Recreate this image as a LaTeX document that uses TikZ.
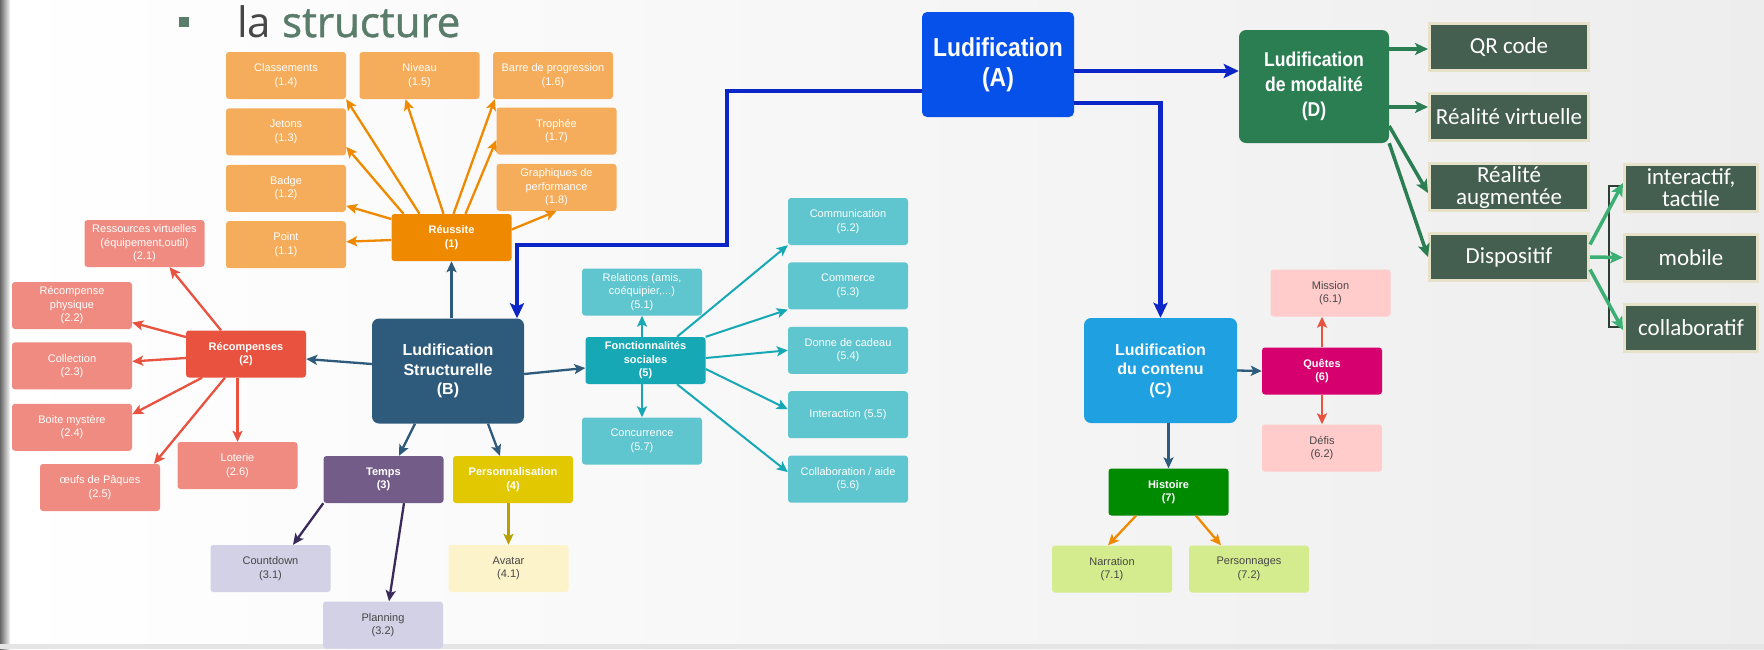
\documentclass[tikz,border=0pt]{standalone}
\usepackage{fontspec}
\setmainfont{Liberation Sans}
\newfontfamily\narrowsans[FakeStretch=0.88]{Liberation Sans}
\newfontfamily\slidesans{Carlito}
\newfontfamily\titlesans{Open Sans}
\newfontfamily\titleheavy[FakeBold=1.2]{Open Sans}
\usepackage{xcolor}
\usetikzlibrary{arrows.meta,positioning}

\definecolor{orLight}{HTML}{F5AD5B}
\definecolor{orDark}{HTML}{EF8A00}
\definecolor{rdLight}{HTML}{EF8B80}
\definecolor{rdDark}{HTML}{E8523E}
\definecolor{stBlue}{HTML}{2E5B7B}
\definecolor{tmPurple}{HTML}{745C89}
\definecolor{tmLight}{HTML}{D2D1E6}
\definecolor{tmArrow}{HTML}{3A2A5C}
\definecolor{psYellow}{HTML}{E1C800}
\definecolor{psLight}{HTML}{FDF3CA}
\definecolor{psArrow}{HTML}{B8A000}
\definecolor{scDark}{HTML}{17A8B6}
\definecolor{scLight}{HTML}{5FC5CE}
\definecolor{ldBlue}{HTML}{0651EA}
\definecolor{lnBlue}{HTML}{0B25C6}
\definecolor{ctBlue}{HTML}{1FA0E0}
\definecolor{qtMag}{HTML}{D6006E}
\definecolor{qtLight}{HTML}{FFCBCB}
\definecolor{hsGreen}{HTML}{008A00}
\definecolor{hsLight}{HTML}{D5EC8E}
\definecolor{mdGreen}{HTML}{2A7E52}
\definecolor{dvFill}{HTML}{445F4F}
\definecolor{dvEdge}{HTML}{E6E2C9}
\definecolor{dvArrow}{HTML}{3CAF74}
\definecolor{brkDark}{HTML}{2D3F35}
\definecolor{ttGreen}{HTML}{5A7C6B}
\definecolor{txDark}{HTML}{474747}

\begin{document}
\begin{tikzpicture}[
  x=1pt, y=1pt,
  box/.style={rounded corners=3pt, align=center, minimum width=120pt,
    minimum height=47pt, inner sep=1pt, text=white,
    font=\fontsize{11}{13.5}\selectfont},
  head/.style={box, font=\bfseries\fontsize{11}{13.5}\selectfont},
  big/.style={rounded corners=7pt, align=center, minimum width=152pt,
    minimum height=105pt, text=white, font=\bfseries\fontsize{16}{19.5}\selectfont},
  dev/.style={fill=dvFill, draw=dvEdge, line width=3pt, text=white, align=center,
    minimum width=159pt, minimum height=47pt, inner sep=1pt,
    font=\slidesans\fontsize{23}{22}\selectfont},
  arrow/.style={-{Stealth[length=11pt,width=10pt,inset=2.5pt]}, line width=2.3pt},
  link/.style={-{Stealth[length=15pt,width=14pt,inset=3pt]}, line width=4.5pt, lnBlue},
  garrow/.style={-{Stealth[length=13pt,width=12pt,inset=3pt]}, line width=3.5pt}
]
\useasboundingbox (0,0) rectangle (1764,-649);
\shade[left color=white, right color=black!7] (0,0) rectangle (1764,-649);
\shade[left color=black!60, right color=black!3] (0,0) rectangle (10,-649);
\fill[black!10] (0,-644) rectangle (1764,-649);

\node[fill=ttGreen, minimum size=10pt, inner sep=0pt] (bul) at (183.5,-22) {};
\node[anchor=base west, inner sep=0pt, font=\fontsize{42}{42}\selectfont] (ttl) at (237,-37)
  {\titlesans\textcolor{txDark}{la} \titleheavy\textcolor{ttGreen}{structure}};

\node[big, fill=ldBlue, rounded corners=5pt, font=\narrowsans\bfseries\fontsize{26}{30}\selectfont]
  (lud) at (998,-64.5) {Ludification\\(A)};
\node[big, fill=stBlue] (strc) at (448,-371) {Ludification\\Structurelle\\(B)};
\node[big, fill=ctBlue, minimum width=153pt] (cont) at (1160.5,-370.5) {Ludification\\du contenu\\(C)};
\node[big, fill=mdGreen, minimum width=150pt, minimum height=113pt,
  font=\narrowsans\bfseries\fontsize{20}{25}\selectfont] (moda) at (1314,-86.5) {Ludification\\de modalité\\(D)};

\node[head, fill=orDark] (reu) at (451.5,-237.5) {Réussite\\(1)};
\node[box, fill=orLight] (cls) at (286,-75.5) {Classements\\(1.4)};
\node[box, fill=orLight, below=9pt of cls] (jet) {Jetons\\(1.3)};
\node[box, fill=orLight, below=9pt of jet] (bdg) {Badge\\(1.2)};
\node[box, fill=orLight, below=9pt of bdg] (pnt) {Point\\(1.1)};
\node[box, fill=orLight] (niv) at (419.5,-75.5) {Niveau\\(1.5)};
\node[box, fill=orLight] (bar) at (553,-75.5) {Barre de progression\\(1.6)};
\node[box, fill=orLight] (tro) at (556.5,-131) {Trophée\\(1.7)};
\node[box, fill=orLight, below=9pt of tro] (gra) {Graphiques de\\performance\\(1.8)};

\node[head, fill=rdDark] (rec) at (246,-354) {Récompenses\\(2)};
\node[box, fill=rdLight] (res) at (144.5,-243.5) {Ressources virtuelles\\(équipement,outil)\\(2.1)};
\node[box, fill=rdLight] (phy) at (72,-305.5) {Récompense\\physique\\(2.2)};
\node[box, fill=rdLight, below=13pt of phy] (coll) {Collection\\(2.3)};
\node[box, fill=rdLight, below=14pt of coll] (boi) {Boite mystère\\(2.4)};
\node[box, fill=rdLight] (oeu) at (100,-487.5) {œufs de Pâques\\(2.5)};
\node[box, fill=rdLight] (lot) at (237.5,-465.5) {Loterie\\(2.6)};

\node[head, fill=tmPurple] (tps) at (383.5,-479.5) {Temps\\(3)};
\node[head, fill=psYellow] (pers) at (513,-479.5) {Personnalisation\\(4)};
\node[box, fill=tmLight, text=txDark] (cnt) at (270.5,-568.5) {Countdown\\(3.1)};
\node[box, fill=tmLight, text=txDark] (pln) at (383,-625) {Planning\\(3.2)};
\node[box, fill=psLight, text=txDark] (ava) at (508.5,-568.5) {Avatar\\(4.1)};

\node[head, fill=scDark] (soc) at (645.5,-360.5) {Fonctionnalités\\sociales\\(5)};
\node[box, fill=scLight] (rel) at (642,-292) {Relations (amis,\\coéquipier,...)\\(5.1)};
\node[box, fill=scLight] (conc) at (642,-441) {Concurrence\\(5.7)};
\node[box, fill=scLight] (comm) at (848,-221.5) {Communication\\(5.2)};
\node[box, fill=scLight, below=17pt of comm] (cmrc) {Commerce\\(5.3)};
\node[box, fill=scLight, below=17pt of cmrc] (don) {Donne de cadeau\\(5.4)};
\node[box, fill=scLight, below=17pt of don] (intr) {Interaction (5.5)};
\node[box, fill=scLight, below=17pt of intr] (collab) {Collaboration / aide\\(5.6)};

\node[head, fill=qtMag] (que) at (1322,-371) {Quêtes\\(6)};
\node[box, fill=qtLight, text=txDark] (mis) at (1330.5,-293) {Mission\\(6.1)};
\node[box, fill=qtLight, text=txDark] (def) at (1322,-448) {Défis\\(6.2)};
\node[head, fill=hsGreen] (his) at (1168.5,-492) {Histoire\\(7)};
\node[box, fill=hsLight, text=txDark] (nar) at (1112,-569) {Narration\\(7.1)};
\node[box, fill=hsLight, text=txDark] (prs) at (1249,-569) {Personnages\\(7.2)};

\node[dev] (qr) at (1509,-47) {QR code};
\node[dev, below=20pt of qr] (rvir) {Réalité virtuelle};
\node[dev, below=20pt of rvir] (raug) {Réalité\\augmentée};
\node[dev, below=20pt of raug] (disp) {Dispositif};
\node[dev, minimum width=133pt] (itac) at (1691,-187.5) {interactif,\\tactile};
\node[dev, minimum width=133pt, below=20pt of itac] (mob) {mobile};
\node[dev, minimum width=133pt, below=20pt of mob] (clb) {collaboratif};

\draw[arrow, orDark] ([yshift=-2.5pt]reu.west) -- ([yshift=3pt]pnt.east);
\draw[arrow, orDark] ([yshift=18.5pt]reu.west) -- ([yshift=-17.5pt]bdg.east);
\draw[arrow, orDark] ([xshift=-48pt]reu.north) -- ([yshift=-15pt]jet.east);
\draw[arrow, orDark] ([xshift=-32pt]reu.north) -- (cls.south east);
\draw[arrow, orDark] ([xshift=-8pt]reu.north) -- ([xshift=-14pt]niv.south);
\draw[arrow, orDark] ([xshift=2pt]reu.north) -- ([xshift=2pt]bar.south west);
\draw[arrow, orDark] ([xshift=14pt]reu.north) -- ([yshift=-9pt]tro.west);
\draw[arrow, orDark] ([yshift=8pt]reu.east) -- (gra.south);

\draw[arrow, rdDark] ([xshift=-25pt]rec.north) -- ([xshift=25pt]res.south);
\draw[arrow, rdDark] ([yshift=17pt]rec.west) -- ([yshift=-17pt]phy.east);
\draw[arrow, rdDark] ([yshift=-4pt]rec.west) -- ([yshift=4.5pt]coll.east);
\draw[arrow, rdDark] ([xshift=-44pt]rec.south) -- ([yshift=13pt]boi.east);
\draw[arrow, rdDark] ([xshift=-21pt]rec.south) -- ([xshift=54pt]oeu.north);
\draw[arrow, rdDark] ([xshift=-8.5pt]rec.south) -- (lot.north);

\draw[arrow, stBlue] (strc.north -| reu.south) -- (reu.south);
\draw[arrow, stBlue] ([yshift=7pt]strc.west) -- ([yshift=-5pt]rec.east);
\draw[arrow, stBlue] ([yshift=-3pt]strc.east) -- ([yshift=-7.5pt]soc.west);
\draw[arrow, stBlue] ([xshift=-33pt]strc.south) -- ([xshift=15.5pt]tps.north);
\draw[arrow, stBlue] ([xshift=40pt]strc.south) -- ([xshift=-13pt]pers.north);
\draw[arrow, tmArrow] (tps.south west) -- ([xshift=22.5pt]cnt.north);
\draw[arrow, tmArrow] ([xshift=20.5pt]tps.south) -- ([xshift=6pt]pln.north);
\draw[arrow, psArrow] (pers.south -| ava.north) -- (ava.north);

\draw[arrow, scDark, line width=2pt] (soc.north -| rel.south) -- (rel.south);
\draw[arrow, scDark, line width=2pt] (soc.south -| conc.north) -- (conc.north);
\draw[arrow, scDark, line width=2pt] ([xshift=31.5pt]soc.north) -- (comm.south west);
\draw[arrow, scDark, line width=2pt] (soc.north east) -- (cmrc.south west);
\draw[arrow, scDark, line width=2pt] ([yshift=2.5pt]soc.east) -- (don.west);
\draw[arrow, scDark, line width=2pt] ([yshift=-8.5pt]soc.east) -- ([yshift=5.5pt]intr.west);
\draw[arrow, scDark, line width=2pt] ([xshift=31.5pt]soc.south) -- ([yshift=7pt]collab.west);

\coordinate (kink) at (727,-245);
\draw[link] ([yshift=-26.5pt]lud.west) -| (kink) -| ([xshift=69pt]strc.north);
\draw[link] ([yshift=-6.5pt]lud.east) -- ([yshift=15.5pt]moda.west);
\draw[link] ([yshift=-38.5pt]lud.east) -| (cont.north);

\draw[arrow, stBlue] (cont.east) -- (que.west);
\draw[arrow, stBlue] (cont.south -| his.north) -- (his.north);
\draw[arrow, rdDark] (que.north) -- (que.north |- mis.south);
\draw[arrow, rdDark] (que.south) -- (def.north);
\draw[arrow, orDark] ([xshift=-32.5pt]his.south) -- ([xshift=-4pt]nar.north);
\draw[arrow, orDark] ([xshift=27.5pt]his.south) -- ([xshift=-28pt]prs.north);

\draw[garrow, mdGreen] ([yshift=37.5pt]moda.east) -- ([yshift=-2pt]qr.west);
\draw[garrow, mdGreen] ([yshift=-20.5pt]moda.east) -- ([yshift=10pt]rvir.west);
\draw[garrow, mdGreen] ([yshift=-39.5pt]moda.east) -- ([yshift=-6pt]raug.west);
\draw[garrow, mdGreen] (moda.south east) -- (disp.west);
\draw[brkDark, line width=2.5pt] (1622,-186) -| (1609,-327) -- (1622,-327);
\draw[garrow, dvArrow] ([yshift=12.5pt]disp.east) -- ([yshift=4.5pt]itac.west);
\draw[garrow, dvArrow] (disp.east) -- (mob.west);
\draw[garrow, dvArrow] ([yshift=-12.5pt]disp.east) -- ([yshift=-2.5pt]clb.west);
\end{tikzpicture}
\end{document}
